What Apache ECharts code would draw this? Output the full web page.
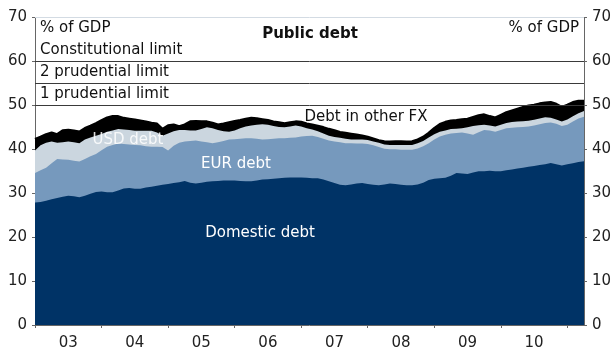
<!DOCTYPE html>
<html>
<head>
<meta charset="utf-8">
<script src="https://cdn.jsdelivr.net/npm/echarts@6/dist/echarts.min.js"></script>
<style>
  html, body { margin: 0; padding: 0; background: #fff; }
  #root { width: 615px; height: 351px; }
</style>
</head>
<body>
<div id="root"></div>
<script>
// monthly, Jan 2003 .. Apr 2011
const months = [];
for (let y = 2003; y <= 2011; y++) {
  for (let m = 1; m <= 12; m++) {
    if (months.length < 100) months.push(y + "-" + String(m).padStart(2, "0"));
  }
}

// stacked levels (% of GDP)
const domestic = [
  27.9, 28.0, 28.3, 28.6, 28.9, 29.2, 29.4, 29.3, 29.1, 29.4,
  29.9, 30.3, 30.4, 30.2, 30.2, 30.6, 31.1, 31.2, 31.0, 31.0,
  31.3, 31.5, 31.7, 31.9, 32.1, 32.3, 32.5, 32.8, 32.4, 32.2,
  32.4, 32.6, 32.7, 32.8, 32.9, 32.9, 32.9, 32.8, 32.7, 32.7,
  32.9, 33.1, 33.2, 33.3, 33.4, 33.5, 33.6, 33.6, 33.6, 33.5,
  33.4, 33.4, 33.1, 32.7, 32.3, 31.9, 31.8, 32.0, 32.2, 32.3,
  32.1, 31.9, 31.8, 32.0, 32.2, 32.1, 31.9, 31.8, 31.8, 32.0,
  32.4, 33.0, 33.3, 33.4, 33.5, 34.0, 34.6, 34.5, 34.4, 34.7,
  35.0, 35.0, 35.1, 35.0, 35.0, 35.2, 35.4, 35.6, 35.8, 36.0,
  36.2, 36.4, 36.6, 36.9, 36.6, 36.3, 36.6, 36.8, 37.1, 37.3
];
const withEur = [
  34.6, 35.2, 35.8, 36.8, 37.8, 37.7, 37.6, 37.4, 37.2, 37.8,
  38.4, 38.9, 39.8, 40.6, 41.0, 41.3, 41.2, 41.1, 41.0, 40.9,
  40.7, 40.6, 40.6, 40.5, 39.7, 40.8, 41.5, 41.8, 41.9, 42.0,
  41.8, 41.6, 41.4, 41.6, 41.9, 42.2, 42.3, 42.4, 42.5, 42.5,
  42.4, 42.2, 42.3, 42.4, 42.5, 42.5, 42.6, 42.7, 42.9, 43.0,
  43.1, 42.8, 42.4, 42.0, 41.8, 41.6, 41.4, 41.4, 41.3, 41.3,
  41.2, 40.9, 40.5, 40.1, 40.0, 40.0, 39.9, 39.9, 39.9, 40.2,
  40.7, 41.4, 42.2, 42.9, 43.3, 43.6, 43.7, 43.8, 43.6, 43.3,
  43.9, 44.4, 44.3, 44.0, 44.4, 44.8, 44.9, 45.0, 45.1, 45.2,
  45.4, 45.7, 46.0, 46.1, 45.8, 45.3, 45.6, 46.3, 47.0, 47.4
];
const withUsd = [
  39.7, 40.9, 41.5, 41.8, 41.5, 41.6, 41.8, 41.6, 41.4, 42.2,
  42.7, 43.1, 43.5, 44.0, 44.3, 44.6, 44.5, 44.4, 44.2, 44.2,
  44.2, 44.2, 43.8, 43.1, 43.6, 44.1, 44.4, 44.4, 44.3, 44.3,
  44.6, 45.0, 44.8, 44.4, 44.1, 44.0, 44.3, 44.8, 45.2, 45.4,
  45.6, 45.7, 45.6, 45.3, 45.1, 45.0, 45.2, 45.4, 45.2, 44.8,
  44.5, 44.1, 43.6, 43.1, 42.8, 42.6, 42.4, 42.2, 42.2, 42.2,
  42.1, 41.8, 41.5, 41.1, 41.0, 41.0, 41.0, 41.0, 41.0, 41.4,
  41.9, 42.7, 43.4, 44.0, 44.3, 44.6, 44.7, 44.8, 45.0, 45.3,
  45.5, 45.6, 45.4, 45.2, 45.6, 46.0, 46.2, 46.3, 46.4, 46.5,
  46.7, 47.0, 47.3, 47.2, 46.8, 46.3, 46.8, 47.5, 48.2, 48.7
];
const total = [
  42.3, 42.8, 43.4, 43.8, 43.4, 44.3, 44.4, 44.2, 44.0, 44.8,
  45.3, 45.9, 46.6, 47.2, 47.5, 47.5, 47.1, 46.9, 46.7, 46.5,
  46.3, 46.0, 45.8, 44.6, 45.4, 45.6, 45.2, 45.6, 46.3, 46.4,
  46.3, 46.3, 46.0, 45.6, 45.8, 46.1, 46.4, 46.6, 46.9, 47.1,
  47.0, 46.8, 46.6, 46.3, 46.1, 45.9, 46.1, 46.3, 46.2, 45.8,
  45.6, 45.3, 45.0, 44.6, 44.3, 43.9, 43.7, 43.5, 43.3, 43.1,
  42.8, 42.4, 42.0, 41.8, 41.7, 41.8, 41.8, 41.7, 41.8, 42.2,
  42.8, 43.7, 44.8, 45.7, 46.2, 46.5, 46.6, 46.8, 46.9, 47.3,
  47.7, 47.9, 47.5, 47.2, 47.8, 48.4, 48.8, 49.2, 49.6, 49.9,
  50.1, 50.4, 50.6, 50.7, 50.3, 49.6, 50.1, 50.7, 51.0, 51.0
];

const limits = [
  { value: 60, name: "Constitutional limit" },
  { value: 55, name: "2 prudential limit" },
  { value: 50, name: "1 prudential limit" }
];

const FONT = "DejaVu Sans";
const chart = echarts.init(document.getElementById("root"));

function area(name, data, color, extra) {
  return Object.assign({
    name: name,
    type: "line",
    data: data,
    symbol: "none",
    silent: true,
    lineStyle: { width: 0 },
    areaStyle: { color: color, opacity: 1 },
    animation: false
  }, extra || {});
}

const yAxisBase = {
  type: "value",
  min: 0,
  max: 70,
  interval: 10,
  splitLine: { show: false },
  axisLine: { show: true, lineStyle: { color: "#666" } },
  axisTick: { show: true, length: 3, lineStyle: { color: "#666" } },
  axisLabel: { color: "#222", fontSize: 15, fontFamily: FONT, margin: 8 }
};

chart.setOption({
  animation: false,
  grid: { left: 35, right: 31, top: 17.5, bottom: 25.5 },
  title: {
    text: "Public debt",
    left: 305,
    textAlign: "center",
    top: 22,
    textStyle: { fontFamily: FONT, fontWeight: "bold", fontSize: 15, color: "#111" }
  },
  xAxis: {
    type: "category",
    data: months,
    boundaryGap: false,
    axisLine: { lineStyle: { color: "#666" } },
    axisTick: { interval: (i) => i % 12 === 0, length: 3, lineStyle: { color: "#666" } },
    axisLabel: {
      interval: (i) => i % 12 === 6,
      formatter: (v) => v.slice(2, 4),
      color: "#222",
      fontSize: 15,
      fontFamily: FONT,
      margin: 11
    }
  },
  yAxis: [
    Object.assign({}, yAxisBase, { position: "left" }),
    Object.assign({}, yAxisBase, { position: "right" })
  ],
  series: [
    area("Debt in other FX", total, "#000000", {
      lineStyle: { width: 2.5, color: "#000" },
      markLine: {
        silent: true,
        symbol: "none",
        animation: false,
        lineStyle: { color: "#3a3a3a", type: "solid", width: 1 },
        label: {
          position: "insideStartTop",
          distance: [5, 4],
          color: "#111",
          fontSize: 15,
          fontFamily: FONT
        },
        data: limits.map((l) => ({
          yAxis: l.value,
          label: { formatter: l.name }
        })).concat([{
          yAxis: 70,
          label: { show: false },
          lineStyle: { color: "#d3dbe3", width: 1, type: "solid" }
        }])
      }
    }),
    area("USD debt", withUsd, "#cbd6df"),
    area("EUR debt", withEur, "#7699bd"),
    area("Domestic debt", domestic, "#003366")
  ],
  graphic: [
    { type: "text", z: 100, left: 40, top: 21, style: { text: "% of GDP", font: "15px " + FONT, fill: "#111" } },
    { type: "text", z: 100, right: 36, top: 21, style: { text: "% of GDP", font: "15px " + FONT, fill: "#111" } },
    { type: "text", z: 100, x: 366, y: 117, style: { text: "Debt in other FX", font: "15px " + FONT, fill: "#111", align: "center", verticalAlign: "middle" } },
    { type: "text", z: 100, x: 128, y: 140, style: { text: "USD debt", font: "15px " + FONT, fill: "rgba(255,255,255,0.85)", align: "center", verticalAlign: "middle" } },
    { type: "text", z: 100, x: 236, y: 164, style: { text: "EUR debt", font: "15px " + FONT, fill: "#fff", align: "center", verticalAlign: "middle" } },
    { type: "text", z: 100, x: 260, y: 233, style: { text: "Domestic debt", font: "15px " + FONT, fill: "#fff", align: "center", verticalAlign: "middle" } }
  ]
});
</script>
</body>
</html>
